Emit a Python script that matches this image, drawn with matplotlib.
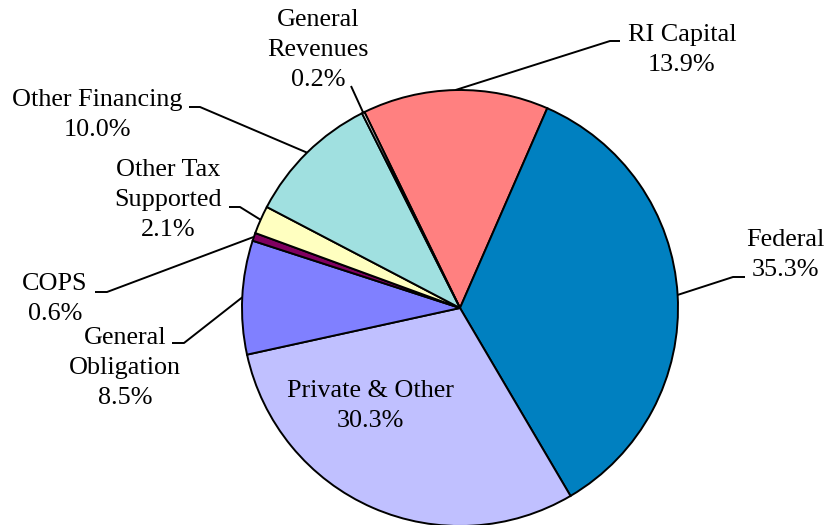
import matplotlib.pyplot as plt
import numpy as np

plt.rcParams["font.family"] = ["Liberation Serif", "DejaVu Serif"]

# slices, clockwise starting at the top
labels = ["RI Capital", "Federal", "Private & Other", "General\nObligation",
          "COPS", "Other Tax\nSupported", "Other Financing", "General\nRevenues"]
shares = [13.9, 35.3, 30.3, 8.5, 0.6, 2.1, 10.0, 0.2]
colors = ["#FF8080", "#0080C0", "#C0C0FF", "#8080FF",
          "#800060", "#FFFFC0", "#A0E0E0", "#FFFFFF"]

W, H = 827, 525
cx, cy, r = 460, 308, 218

# text centres and leader elbows, pixels from top-left
text_pos = [(682, 50), (785, 255), (370, 406), (125, 368),
            (55, 299), (168, 200), (97, 115), (318, 50)]
elbows = [((610, 41), (620, 41)), ((733, 277), (745, 277)), None,
          ((184, 343), (172, 343)), ((107, 292), (95, 292)),
          ((240, 207), (229, 207)), ((200, 107), (189, 107)),
          ((351, 86), (351, 86))]

fig = plt.figure(figsize=(W / 100, H / 100), dpi=100)
ax = fig.add_axes([0, 0, 1, 1])

wedges, _ = ax.pie(
    shares,
    colors=colors,
    startangle=116,
    counterclock=False,
    center=(cx, H - cy),
    radius=r,
    wedgeprops=dict(edgecolor="black", linewidth=1.4),
)

for w, lab, val, (tx, ty), el in zip(wedges, labels, shares, text_pos, elbows):
    ax.text(tx, H - ty, f"{lab}\n{val:.1f}%", ha="center", va="center",
            fontsize=18.8, linespacing=1.47)
    if el is None:
        continue
    mid = np.deg2rad((w.theta1 + w.theta2) / 2)
    ex, ey = cx + r * np.cos(mid), (H - cy) + r * np.sin(mid)
    (x1, y1), (x2, y2) = el
    ax.plot([ex, x1, x2], [ey, H - y1, H - y2], color="black", lw=1.4,
            solid_capstyle="butt")

ax.set_xlim(0, W)
ax.set_ylim(0, H)
ax.axis("off")

fig.savefig("out.png", dpi=100)
